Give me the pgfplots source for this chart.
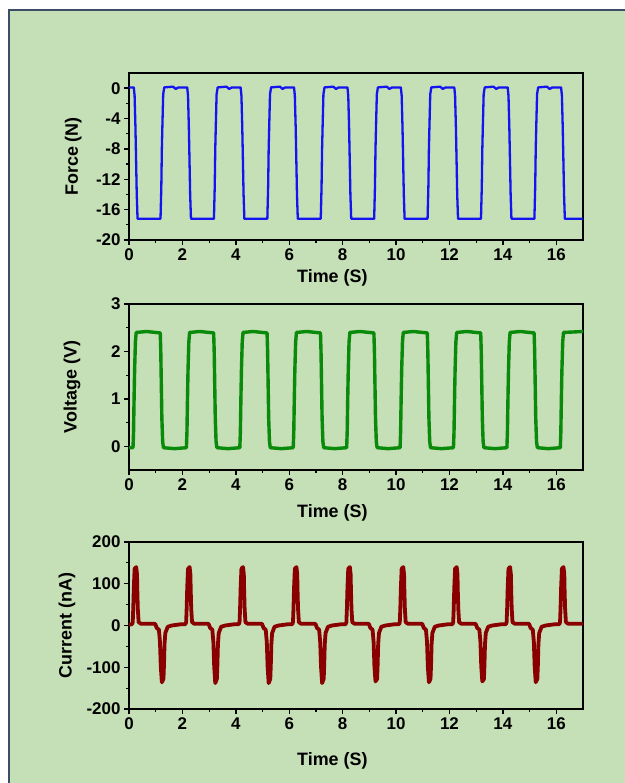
\documentclass[border=0pt]{standalone}
\usepackage{fontspec}
\setmainfont{Liberation Sans}
\usepackage{pgfplots}
\pgfplotsset{compat=1.18}

\definecolor{bg}{HTML}{C5DFB6}
\definecolor{framec}{HTML}{3B4E66}
\definecolor{fblue}{HTML}{1414F0}
\definecolor{vgreen}{HTML}{0A8A0A}
\definecolor{cred}{HTML}{8A0000}

\pgfplotsset{
  panel/.style={
    scale only axis, width=454bp, anchor=south west,
    xmin=0, xmax=17, xtick={0,2,...,16}, minor x tick num=1,
    tick pos=left, tick align=outside,
    major tick length=5bp, minor tick length=3bp,
    axis line style={line width=1.6bp},
    major tick style={black, line width=1.4bp},
    minor tick style={black, line width=1.2bp},
    tick label style={font=\fontsize{17}{20}\selectfont\bfseries},
    /pgf/number format/assume math mode=true,
    label style={font=\fontsize{18}{21}\selectfont\bfseries},
    xlabel={Time (S)},
  },
}

\begin{document}
\begin{tikzpicture}
\useasboundingbox (0,0) rectangle (625bp,783bp);
\fill[white] (0,0) rectangle (625bp,783bp);
\fill[bg] (9bp,0) rectangle (625bp,773bp);
\draw[framec, line width=1.5bp] (9bp,0) -- (9bp,773bp) -- (625bp,773bp);

% force
\begin{axis}[panel, at={(129bp,543bp)}, height=167bp,
  ymin=-20, ymax=2, ytick={-20,-16,...,0}, minor y tick num=1,
  ylabel={Force (N)},
  xlabel style={at={(axis description cs:0.448,-0.2275)}, anchor=center},
  ylabel style={at={(axis description cs:-0.123,0.5)}, anchor=center},
]
\addplot[fblue, line width=2.3bp, line join=round] coordinates {
(0,0.1)(0.18,0.1)(0.21,-1)(0.24,-5)(0.26,-8.5)(0.29,-14)(0.32,-17.2)(1.18,-17.2)(1.21,-13)(1.23,-8)(1.25,-5)(1.28,-0.8)(1.32,0.1)(1.65,0.2)(1.75,-0.1)(1.85,0.1)
(2.18,0.1)(2.21,-1)(2.24,-5)(2.26,-8.5)(2.29,-14)(2.32,-17.2)(3.18,-17.2)(3.21,-13)(3.23,-8)(3.25,-5)(3.28,-0.8)(3.32,0.1)(3.65,0.2)(3.75,-0.1)(3.85,0.1)
(4.18,0.1)(4.21,-1)(4.24,-5)(4.26,-8.5)(4.29,-14)(4.32,-17.2)(5.18,-17.2)(5.21,-13)(5.23,-8)(5.25,-5)(5.28,-0.8)(5.32,0.1)(5.65,0.2)(5.75,-0.1)(5.85,0.1)
(6.18,0.1)(6.21,-1)(6.24,-5)(6.26,-8.5)(6.29,-14)(6.32,-17.2)(7.18,-17.2)(7.21,-13)(7.23,-8)(7.25,-5)(7.28,-0.8)(7.32,0.1)(7.65,0.2)(7.75,-0.1)(7.85,0.1)
(8.18,0.1)(8.21,-1)(8.24,-5)(8.26,-8.5)(8.29,-14)(8.32,-17.2)(9.18,-17.2)(9.21,-13)(9.23,-8)(9.25,-5)(9.28,-0.8)(9.32,0.1)(9.65,0.2)(9.75,-0.1)(9.85,0.1)
(10.18,0.1)(10.21,-1)(10.24,-5)(10.26,-8.5)(10.29,-14)(10.32,-17.2)(11.18,-17.2)(11.21,-13)(11.23,-8)(11.25,-5)(11.28,-0.8)(11.32,0.1)(11.65,0.2)(11.75,-0.1)(11.85,0.1)
(12.18,0.1)(12.21,-1)(12.24,-5)(12.26,-8.5)(12.29,-14)(12.32,-17.2)(13.18,-17.2)(13.21,-13)(13.23,-8)(13.25,-5)(13.28,-0.8)(13.32,0.1)(13.65,0.2)(13.75,-0.1)(13.85,0.1)
(14.18,0.1)(14.21,-1)(14.24,-5)(14.26,-8.5)(14.29,-14)(14.32,-17.2)(15.18,-17.2)(15.21,-13)(15.23,-8)(15.25,-5)(15.28,-0.8)(15.32,0.1)(15.65,0.2)(15.75,-0.1)(15.85,0.1)
(16.18,0.1)(16.21,-1)(16.24,-5)(16.26,-8.5)(16.29,-14)(16.32,-17.2)(17,-17.2)
};
\end{axis}

% voltage
\begin{axis}[panel, at={(129bp,313bp)}, height=166bp,
  ymin=-0.5, ymax=3, ytick={0,1,2,3}, minor y tick num=1,
  ylabel={Voltage (V)},
  xlabel style={at={(axis description cs:0.448,-0.259)}, anchor=center},
  ylabel style={at={(axis description cs:-0.1256,0.5)}, anchor=center},
]
\addplot[vgreen, line width=3.4bp, line join=round] coordinates {
(0,-0.03)
(0.15,-0.03)(0.17,0.3)(0.19,1.0)(0.21,1.6)(0.24,2.2)(0.27,2.4)(0.65,2.42)(1.17,2.39)(1.19,2.0)(1.21,1.3)(1.23,0.6)(1.26,0.1)(1.29,-0.03)(1.7,-0.05)
(2.15,-0.03)(2.17,0.3)(2.19,1.0)(2.21,1.6)(2.24,2.2)(2.27,2.4)(2.65,2.42)(3.17,2.39)(3.19,2.0)(3.21,1.3)(3.23,0.6)(3.26,0.1)(3.29,-0.03)(3.7,-0.05)
(4.15,-0.03)(4.17,0.3)(4.19,1.0)(4.21,1.6)(4.24,2.2)(4.27,2.4)(4.65,2.42)(5.17,2.39)(5.19,2.0)(5.21,1.3)(5.23,0.6)(5.26,0.1)(5.29,-0.03)(5.7,-0.05)
(6.15,-0.03)(6.17,0.3)(6.19,1.0)(6.21,1.6)(6.24,2.2)(6.27,2.4)(6.65,2.42)(7.17,2.39)(7.19,2.0)(7.21,1.3)(7.23,0.6)(7.26,0.1)(7.29,-0.03)(7.7,-0.05)
(8.15,-0.03)(8.17,0.3)(8.19,1.0)(8.21,1.6)(8.24,2.2)(8.27,2.4)(8.65,2.42)(9.17,2.39)(9.19,2.0)(9.21,1.3)(9.23,0.6)(9.26,0.1)(9.29,-0.03)(9.7,-0.05)
(10.15,-0.03)(10.17,0.3)(10.19,1.0)(10.21,1.6)(10.24,2.2)(10.27,2.4)(10.65,2.42)(11.17,2.39)(11.19,2.0)(11.21,1.3)(11.23,0.6)(11.26,0.1)(11.29,-0.03)(11.7,-0.05)
(12.15,-0.03)(12.17,0.3)(12.19,1.0)(12.21,1.6)(12.24,2.2)(12.27,2.4)(12.65,2.42)(13.17,2.39)(13.19,2.0)(13.21,1.3)(13.23,0.6)(13.26,0.1)(13.29,-0.03)(13.7,-0.05)
(14.15,-0.03)(14.17,0.3)(14.19,1.0)(14.21,1.6)(14.24,2.2)(14.27,2.4)(14.65,2.42)(15.17,2.39)(15.19,2.0)(15.21,1.3)(15.23,0.6)(15.26,0.1)(15.29,-0.03)(15.7,-0.05)
(16.15,-0.03)(16.17,0.3)(16.19,1.0)(16.21,1.6)(16.24,2.2)(16.27,2.4)(17,2.42)
};
\end{axis}

% current
\begin{axis}[panel, at={(129bp,74bp)}, height=167bp,
  ymin=-200, ymax=200, ytick={-200,-100,...,200}, minor y tick num=1,
  ylabel={Current (nA)},
  xlabel style={at={(axis description cs:0.448,-0.311)}, anchor=center},
  ylabel style={at={(axis description cs:-0.1366,0.5)}, anchor=center},
]
\addplot[cred, line width=3.8bp, line join=round] coordinates {
(0,2)
(0.11,3)(0.14,8)(0.16,42)(0.18,90)(0.21,136)(0.27,140)(0.30,122)(0.31,88)(0.33,40)(0.36,8)(0.45,4)(0.98,4)(1.04,-6)(1.12,-10)(1.16,-40)(1.19,-98)(1.23,-136)(1.29,-128)(1.31,-95)(1.33,-45)(1.36,-18)(1.45,-3)(1.6,0)(1.95,3)
(2.11,3)(2.14,8)(2.16,42)(2.18,90)(2.21,136)(2.27,140)(2.30,122)(2.31,88)(2.33,40)(2.36,8)(2.45,4)(2.98,4)(3.04,-6)(3.12,-10)(3.16,-40)(3.19,-98)(3.23,-138)(3.29,-128)(3.31,-95)(3.33,-45)(3.36,-18)(3.45,-3)(3.6,0)(3.95,3)
(4.11,3)(4.14,8)(4.16,42)(4.18,90)(4.21,136)(4.27,140)(4.30,122)(4.31,88)(4.33,40)(4.36,8)(4.45,4)(4.98,4)(5.04,-6)(5.12,-10)(5.16,-40)(5.19,-98)(5.23,-138)(5.29,-128)(5.31,-95)(5.33,-45)(5.36,-18)(5.45,-3)(5.6,0)(5.95,3)
(6.11,3)(6.14,8)(6.16,42)(6.18,90)(6.21,136)(6.27,140)(6.30,122)(6.31,88)(6.33,40)(6.36,8)(6.45,4)(6.98,4)(7.04,-6)(7.12,-10)(7.16,-40)(7.19,-98)(7.23,-138)(7.29,-128)(7.31,-95)(7.33,-45)(7.36,-18)(7.45,-3)(7.6,0)(7.95,3)
(8.11,3)(8.14,8)(8.16,42)(8.18,90)(8.21,136)(8.27,140)(8.30,122)(8.31,88)(8.33,40)(8.36,8)(8.45,4)(8.98,4)(9.04,-6)(9.12,-10)(9.16,-40)(9.19,-98)(9.23,-134)(9.29,-128)(9.31,-95)(9.33,-45)(9.36,-18)(9.45,-3)(9.6,0)(9.95,3)
(10.11,3)(10.14,8)(10.16,42)(10.18,90)(10.21,136)(10.27,140)(10.30,122)(10.31,88)(10.33,40)(10.36,8)(10.45,4)(10.98,4)(11.04,-6)(11.12,-10)(11.16,-40)(11.19,-98)(11.23,-136)(11.29,-128)(11.31,-95)(11.33,-45)(11.36,-18)(11.45,-3)(11.6,0)(11.95,3)
(12.11,3)(12.14,8)(12.16,42)(12.18,90)(12.21,136)(12.27,140)(12.30,122)(12.31,88)(12.33,40)(12.36,8)(12.45,4)(12.98,4)(13.04,-6)(13.12,-10)(13.16,-40)(13.19,-98)(13.23,-134)(13.29,-128)(13.31,-95)(13.33,-45)(13.36,-18)(13.45,-3)(13.6,0)(13.95,3)
(14.11,3)(14.14,8)(14.16,42)(14.18,90)(14.21,136)(14.27,140)(14.30,122)(14.31,88)(14.33,40)(14.36,8)(14.45,4)(14.98,4)(15.04,-6)(15.12,-10)(15.16,-40)(15.19,-98)(15.23,-136)(15.29,-128)(15.31,-95)(15.33,-45)(15.36,-18)(15.45,-3)(15.6,0)(15.95,3)
(16.11,3)(16.14,8)(16.16,42)(16.18,90)(16.21,136)(16.27,140)(16.30,122)(16.31,88)(16.33,40)(16.36,8)(16.45,4)(17,4)
};
\end{axis}
\end{tikzpicture}
\end{document}
